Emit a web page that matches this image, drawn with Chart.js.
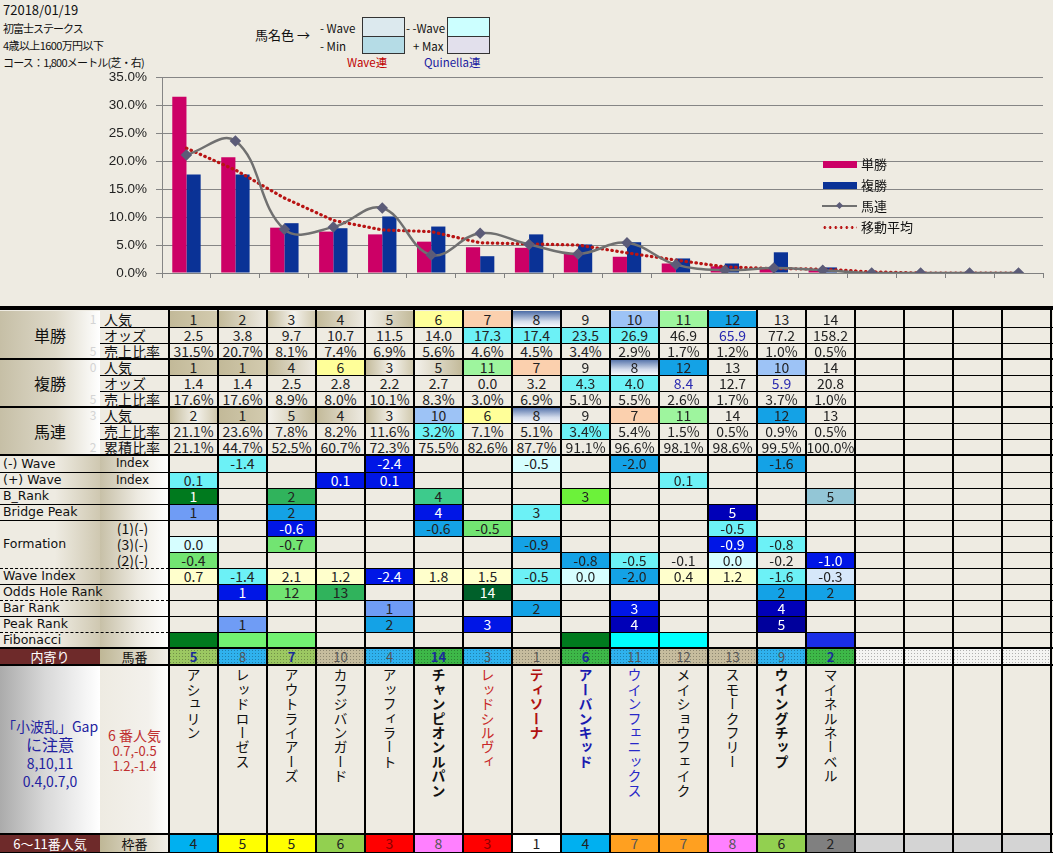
<!DOCTYPE html>
<html>
<head>
<meta charset="utf-8">
<script src="https://cdn.jsdelivr.net/npm/chart.js@4.4.0/dist/chart.umd.min.js"></script>
<style>
  body { margin:0; background:#EEEBE2; font-family:"Noto Sans CJK JP", sans-serif; }
  #page { position:relative; width:1053px; height:853px; overflow:hidden; background:#EEEBE2; }
  .t { position:absolute; white-space:nowrap; color:#111; }
  .box { position:absolute; border:1px solid #333; box-sizing:border-box; }
  .cell { position:absolute; box-sizing:border-box; text-align:center; font-size:14px; color:#222; overflow:hidden; white-space:nowrap; }
  .ln { position:absolute; background:#000; }
  .lg { position:absolute; font-size:13px; line-height:16px; color:#111; }
</style>
</head>
<body>
<div id="page">
  <div class="t" style="left:3px;top:1px;font-size:13px;line-height:18px">72018/01/19</div>
  <div class="t" style="left:3px;top:20px;font-size:11px;line-height:17px;letter-spacing:-1px">初富士ステークス</div>
  <div class="t" style="left:3px;top:37px;font-size:11px;line-height:17px;letter-spacing:-0.6px">4歳以上1600万円以下</div>
  <div class="t" style="left:3px;top:54px;font-size:11px;line-height:17px;letter-spacing:-0.8px">コース：1,800メートル(芝・右)</div>

  <div class="t" style="left:255px;top:27px;font-size:13px;line-height:16px">馬名色 →</div>
  <div class="t" style="left:320px;top:20px;font-size:11.5px;line-height:16px">- Wave</div>
  <div class="t" style="left:320px;top:38px;font-size:11.5px;line-height:16px">- Min</div>
  <div class="box" style="left:362px;top:17px;width:43px;height:20px;background:#DCE9EE"></div>
  <div class="box" style="left:362px;top:36px;width:43px;height:18px;background:#B5DCE6"></div>
  <div class="t" style="left:406px;top:20px;font-size:11.5px;line-height:16px">- -Wave</div>
  <div class="t" style="left:413px;top:38px;font-size:11.5px;line-height:16px">+ Max</div>
  <div class="box" style="left:447px;top:17px;width:43px;height:20px;background:#CCFFFF"></div>
  <div class="box" style="left:447px;top:36px;width:43px;height:18px;background:#E2E0EC"></div>
  <div class="t" style="left:347px;top:54px;font-size:11.5px;line-height:16px;color:#C00000">Wave連</div>
  <div class="t" style="left:424px;top:54px;font-size:11.5px;line-height:16px;color:#1A1AA0">Quinella連</div>

  <div style="position:absolute;left:0;top:60px;width:1053px;height:240px">
    <canvas id="chart" width="1053" height="240"></canvas>
  </div>

  <div id="legend"></div>
  <div id="grid"></div>
</div>

<script>
// ---- chart data (x = 単勝 popularity order) ----
const ranks = ['1','2','3','4','5','6','7','8','9','10','11','12','13','14','15','16','17','18'];
const winShare = [31.5, 20.7, 8.1, 7.4, 6.9, 5.6, 4.6, 4.5, 3.4, 2.9, 1.7, 1.2, 1.0, 0.5, null, null, null, null];
const placeShare = [17.6, 17.6, 8.9, 8.0, 10.1, 8.3, 3.0, 6.9, 5.1, 5.5, 2.6, 1.7, 3.7, 1.0, null, null, null, null];
const quinellaShare = [21.1, 23.6, 7.8, 8.2, 11.6, 3.2, 7.1, 5.1, 3.4, 5.4, 1.5, 0.5, 0.9, 0.5, 0, 0, 0, 0];
const movingAvg = [22.3, 18.4, 13.4, 9.4, 7.7, 7.4, 5.4, 5.2, 5.0, 3.6, 2.3, 1.1, 0.8, 0.7, 0.2, 0, 0, 0];
const yTicks = [0, 5, 10, 15, 20, 25, 30, 35];

// ---- table data ----
const winPop = ['1','2','3','4','5','6','7','8','9','10','11','12','13','14'];
const winOdds = ['2.5','3.8','9.7','10.7','11.5','14.0','17.3','17.4','23.5','26.9','46.9','65.9','77.2','158.2'];
const winRatio = ['31.5%','20.7%','8.1%','7.4%','6.9%','5.6%','4.6%','4.5%','3.4%','2.9%','1.7%','1.2%','1.0%','0.5%'];
const placePop = ['1','1','4','6','3','5','11','7','9','8','12','13','10','14'];
const placeOdds = ['1.4','1.4','2.5','2.8','2.2','2.7','0.0','3.2','4.3','4.0','8.4','12.7','5.9','20.8'];
const placeRatio = ['17.6%','17.6%','8.9%','8.0%','10.1%','8.3%','3.0%','6.9%','5.1%','5.5%','2.6%','1.7%','3.7%','1.0%'];
const qPop = ['2','1','5','4','3','10','6','8','9','7','11','14','12','13'];
const qRatio = ['21.1%','23.6%','7.8%','8.2%','11.6%','3.2%','7.1%','5.1%','3.4%','5.4%','1.5%','0.5%','0.9%','0.5%'];
const qCum = ['21.1%','44.7%','52.5%','60.7%','72.3%','75.5%','82.6%','87.7%','91.1%','96.6%','98.1%','98.6%','99.5%','100.0%'];
const waveMinus = ['','-1.4','','','-2.4','','','-0.5','','-2.0','','','-1.6',''];
const wavePlus = ['0.1','','','0.1','0.1','','','','','','0.1','','',''];
const bRank = ['1','','2','','','4','','','3','','','','','5'];
const bridgePeak = ['1','','2','','','4','','3','','','','5','',''];
const form1 = ['','','-0.6','','','-0.6','-0.5','','','','','-0.5','',''];
const form3 = ['0.0','','-0.7','','','','','-0.9','','','','-0.9','-0.8',''];
const form2 = ['-0.4','','','','','','','','-0.8','-0.5','-0.1','0.0','-0.2','-1.0'];
const waveIndex = ['0.7','-1.4','2.1','1.2','-2.4','1.8','1.5','-0.5','0.0','-2.0','0.4','1.2','-1.6','-0.3'];
const oddsHole = ['','1','12','13','','','14','','','','','','2','2'];
const barRank = ['','','','','1','','','2','','3','','','4',''];
const peakRank = ['','1','','','2','','3','','','4','','','5',''];
const fibo = ['','','','','','','','','','','','','',''];
const horseNo = ['5','8','7','10','4','14','3','1','6','11','12','13','9','2'];
const horseName = ['アシュリン','レッドローゼス','アウトライアーズ','カフジバンガード','アッフィラート','チャンピオンルパン','レッドシルヴィ','ティソーナ','アーバンキッド','ウインフェニックス','メイショウフェイク','スモークフリー','ウイングチップ','マイネルネーベル'];
const frameNo = ['4','5','5','6','3','8','3','1','4','7','7','8','6','2'];

// cell colour codes
const winPopBg = ['t1','t2','t3','t2','t4','y','p','g8','','lb','lg','b','',''];
const winOddsBg = ['','','','','','','c','c','c','c','','','',''];
const placePopBg = ['t1','t1','t2','y','t3','t4','lg','p','','g8','b','','lb',''];
const placeOddsBg = ['','','','','','','','','c','c','','','',''];
const qPopBg = ['t3','t1','t4','t2','t3','lb','y','g8','','p','lg','','b',''];
const qRatioBg = ['','','','','','c','','','c','','','','',''];
const waveMinusBg = ['','c','','','n','','','lc','','b','','','b',''];
const wavePlusBg = ['c','','','n','n','','','','','','c','','',''];
const bRankBg = ['dg','','mg','','','tg','','','bg','','','','','gb'];
const bridgePeakBg = ['cf','','b','','','n','','c','','','','nn','',''];
const form1Bg = ['','','n','','','b','gr','','','','','c','',''];
const form3Bg = ['lc','','gr','','','','','b','','','','n','c',''];
const form2Bg = ['gr','','','','','','','','b','c','','lc','','n'];
const waveIndexBg = ['ly','c','ly','ly','n','ly','ly','c','lc','b','ly','ly','c','lbg'];
const oddsHoleBg = ['','n','gr','mg','','','dk','','','','','','b','b'];
const barRankBg = ['','','','','cf','','','b','','n','','','nn',''];
const peakRankBg = ['','cf','','','b','','n','','','nn','','','nv',''];
const fiboBg = ['dg','lg2','lg2','','','','','','dg','cy','cy','','','fb'];
const horseNoBg = ['gA','bA','gA','tA','bA','gB','bA','tA','gB','bA','tA','tA','bA','gB'];
const horseNoBold = [1,0,1,0,0,1,0,0,1,0,0,0,0,1];
const nameColor = ['#111','#111','#111','#111','#111','#111','#C82828','#B01010','#1A1AB0','#2828C8','#111','#111','#111','#111'];
const nameBold = [0,0,0,0,0,1,0,1,1,0,0,0,1,0];

const PAL = {
  t1:'linear-gradient(90deg,#C2B998,#D3CBAF)',
  t2:'linear-gradient(90deg,#C2B998,#EEEBE3)',
  t3:'linear-gradient(90deg,#C2B998,#F4F2EC 55%,#CFC7AB)',
  t4:'linear-gradient(90deg,#F4F2EC,#C2B998)',
  y:'#FFFF99', p:'#FBD0AE', g8:'linear-gradient(180deg,#4C6CA6,#D5DDEC 65%,#F7F8FB)',
  lb:'#9DC3F6', lg:'#9EF59E', b:'#14A2E6', c:'#6CF1F6', lc:'#D6FEFF', n:'#0016E6', nn:'#0000B8', nv:'#00009C',
  ly:'#FFFFCC', dg:'#007A1E', mg:'#30B35C', tg:'#3DCB8C', bg:'#6CF23A', gb:'#93C6D6', cf:'#6F9CF5',
  gr:'#72E472', dk:'#00602A', lbg:'#D6E7FA', cy:'#00FFFF', fb:'#1A2EE6', lg2:'#72F272'
};
const WHITE_TXT = ['n','nn','nv','dg','dk','fb'];
const HN = { gA:'#9CC862', gB:'#3DB848', bA:'#2FB2EE', tA:'#C6BC9E' };
const FRAME = { '1':'#FFFFFF','2':'#808080','3':'#FF0000','4':'#00B0F0','5':'#FFFF00','6':'#92D050','7':'#FFA020','8':'#FF80FF' };

// ---- chart ----
new Chart(document.getElementById('chart').getContext('2d'), {
  type: 'bar',
  data: {
    labels: ranks,
    datasets: [
      { type:'line', label:'馬連', data: quinellaShare, borderColor:'#707070', borderWidth:2.5, tension:0.4,
        pointStyle:'rectRot', pointRadius:4, pointBackgroundColor:'#5C5C78', pointBorderColor:'#5C5C78', order:1 },
      { type:'line', label:'移動平均', data: movingAvg, borderColor:'#B81414', borderWidth:3.2, borderDash:[0.5,4.5],
        borderCapStyle:'round', pointRadius:0, tension:0, order:2 },
      { label:'単勝', data: winShare, backgroundColor:'#CC0066', categoryPercentage:0.58, barPercentage:1, order:3 },
      { label:'複勝', data: placeShare, backgroundColor:'#0A3296', categoryPercentage:0.58, barPercentage:1, order:4 }
    ]
  },
  options: {
    responsive: false,
    animation: false,
    devicePixelRatio: 1,
    layout: { padding: { top:17, right:10, left:0, bottom:0 } },
    plugins: { legend: { display:false }, tooltip: { enabled:false } },
    scales: {
      x: {
        offset: true,
        ticks: { display:false },
        grid: { display:true, drawOnChartArea:false, drawTicks:true, tickLength:5, color:'#808080', offset:true },
        border: { display:true, color:'#808080' },
        afterFit: s => { s.height = 27; }
      },
      y: {
        min: 0, max: 35,
        afterBuildTicks: s => { s.ticks = yTicks.map(v => ({ value:v })); },
        ticks: { callback: v => v.toFixed(1) + '%', color:'#222', padding:9,
                 font: { family:'"Liberation Sans", Arial, sans-serif', size:13.5 } },
        grid: { color:'#858585', lineWidth:1, tickLength:6 },
        border: { display:true, color:'#858585' },
        afterFit: s => { s.width = 162; }
      }
    }
  }
});

// ---- legend (inside the plot) ----
const legendItems = [
  { text:'単勝', kind:'bar', color:'#CC0066' },
  { text:'複勝', kind:'bar', color:'#0A3296' },
  { text:'馬連', kind:'line' },
  { text:'移動平均', kind:'dot' }
];
const legend = document.getElementById('legend');
legendItems.forEach((it, i) => {
  const cy = 164 + i * 21;
  let sw = '';
  if (it.kind === 'bar') {
    sw = `<div style="position:absolute;left:823px;top:${cy-3}px;width:34px;height:7px;background:${it.color}"></div>`;
  } else if (it.kind === 'line') {
    sw = `<div style="position:absolute;left:822px;top:${cy-1}px;width:35px;height:2px;background:#707070"></div>
          <div style="position:absolute;left:837px;top:${cy-3}px;width:5px;height:5px;background:#5C5C78;transform:rotate(45deg)"></div>`;
  } else {
    sw = `<div style="position:absolute;left:822px;top:${cy-1}px;width:35px;height:3px;
          background-image:radial-gradient(circle,#B81414 1.2px,transparent 1.5px);background-size:5.5px 3px"></div>`;
  }
  legend.insertAdjacentHTML('beforeend', sw + `<div class="lg" style="left:861px;top:${cy-8}px">${it.text}</div>`);
});

// ---- table ----
const grid = document.getElementById('grid');
const X0 = 169, CW = 49, NC = 18, XB = 100;
const rowY = k => 311 + Math.round(16.05 * k);
function div(cls, css, text, html) {
  const d = document.createElement('div');
  d.className = cls;
  d.style.cssText = css;
  if (html) d.innerHTML = html; else if (text) d.textContent = text;
  grid.appendChild(d);
  return d;
}

const dataRows = [
  [winPop, winPopBg], [winOdds, winOddsBg], [winRatio, null],
  [placePop, placePopBg], [placeOdds, placeOddsBg], [placeRatio, null],
  [qPop, qPopBg], [qRatio, qRatioBg], [qCum, null],
  [waveMinus, waveMinusBg], [wavePlus, wavePlusBg], [bRank, bRankBg], [bridgePeak, bridgePeakBg],
  [form1, form1Bg], [form3, form3Bg], [form2, form2Bg], [waveIndex, waveIndexBg],
  [oddsHole, oddsHoleBg], [barRank, barRankBg], [peakRank, peakRankBg], [fibo, fiboBg]
];
const blueText = { '1-11':1, '4-10':1, '4-12':1 };

// left label columns
const gradA = 'linear-gradient(90deg,#C6BFA6 0%,#DDD8C8 55%,#FFFFFF 100%)';
const gradB2 = 'linear-gradient(90deg,#C7C0A7 0%,#EDEAE1 55%,#FFFFFF 100%)';
const gradA2 = 'linear-gradient(90deg,#EEEBE2 0%,#EEEBE2 55%,#CFC8B1 100%)';
[['単勝',0],['複勝',3],['馬連',6]].forEach(([t, r]) => {
  const y0 = rowY(r), y1 = rowY(r + 3);
  div('cell', `left:0;top:${y0}px;width:${XB}px;height:${y1-y0}px;background:${gradA};line-height:${y1-y0}px;font-size:16px;color:#111`, t);
});
const bLabels = ['人気','オッズ','売上比率','人気','オッズ','売上比率','人気','売上比率','累積比率'];
const faint = { 0:'1', 2:'5', 3:'0', 5:'5', 6:'3', 8:'2' };
bLabels.forEach((t, r) => {
  const y0 = rowY(r), h = rowY(r + 1) - y0;
  div('cell', `left:${XB}px;top:${y0}px;width:${X0-XB}px;height:${h}px;line-height:${h}px;text-align:left;padding-left:4px;color:#111`, t);
  if (faint[r]) div('cell', `left:88px;top:${y0}px;width:10px;height:${h}px;line-height:${h}px;color:#D4D4D4;font-size:12px`, faint[r]);
});
const aLabels = { 9:'(-) Wave', 10:'(+) Wave', 11:'B_Rank', 12:'Bridge Peak', 16:'Wave Index', 17:'Odds Hole Rank', 18:'Bar Rank', 19:'Peak Rank', 20:'Fibonacci' };
const bLabels2 = { 9:'Index', 10:'Index', 13:'(1)(-)', 14:'(3)(-)', 15:'(2)(-)' };
for (let r = 9; r <= 20; r++) {
  const y0 = rowY(r), h = rowY(r + 1) - y0;
  const isForm = r >= 13 && r <= 15;
  div('cell', `left:0;top:${y0}px;width:${XB}px;height:${h}px;background:${gradA2}`, '');
  div('cell', `left:${XB}px;top:${y0}px;width:${X0-XB}px;height:${h}px;line-height:${h}px;background:${gradB2};font-family:${isForm ? '"Noto Sans CJK JP"' : "'DejaVu Sans'"},sans-serif;font-size:${isForm ? 14 : 12}px;color:#111;padding-right:4px`, bLabels2[r] || '');
  if (aLabels[r]) div('cell', `left:0;top:${y0}px;width:${XB+10}px;height:${h}px;line-height:${h}px;text-align:left;padding-left:3px;font-family:'DejaVu Sans',sans-serif;font-size:12.5px;color:#111;overflow:visible`, aLabels[r]);
}
div('cell', `left:0;top:${rowY(14)}px;width:${XB}px;height:16px;line-height:16px;text-align:left;padding-left:3px;font-family:'DejaVu Sans',sans-serif;font-size:12.5px;color:#111`, 'Formation');

// data cells rows 0..20
dataRows.forEach(([vals, bgs], r) => {
  const y0 = rowY(r), h = rowY(r + 1) - y0;
  for (let c = 0; c < NC; c++) {
    const code = bgs && c < 14 ? bgs[c] : '';
    const bg = code ? PAL[code] : '#EEEBE2';
    let col = WHITE_TXT.includes(code) ? '#FFFFFF' : '#222';
    if (blueText[r + '-' + c]) col = '#2A2AB0';
    const txt = c < 14 ? vals[c] : '';
    div('cell', `left:${X0 + CW*c}px;top:${y0}px;width:${CW}px;height:${h}px;line-height:${h}px;background:${bg};color:${col}`, txt);
  }
});

// 馬番 row
const yH = 649, hH = 16;
div('cell', `left:0;top:${yH}px;width:${XB}px;height:${hH}px;line-height:${hH}px;background:#6E2A2A;color:#fff;font-size:13px`, '内寄り');
div('cell', `left:${XB}px;top:${yH}px;width:${X0-XB}px;height:${hH}px;line-height:${hH}px;background:linear-gradient(90deg,#BFB796,#F2F0EA);color:#111;font-size:13px`, '馬番');
for (let c = 0; c < NC; c++) {
  const base = c < 14 ? HN[horseNoBg[c]] : '#F4F4F2';
  const bold = c < 14 && horseNoBold[c];
  div('cell', `left:${X0 + CW*c}px;top:${yH}px;width:${CW}px;height:${hH}px;line-height:${hH}px;background-color:${base};
    background-image:radial-gradient(circle,rgba(0,0,0,0.28) 0.7px,transparent 0.9px);background-size:3px 3px;
    color:${bold ? '#1A2C9A' : '#555'};font-weight:${bold ? 700 : 400};font-size:13px`, c < 14 ? horseNo[c] : '');
}

// name row
const yN = 665, hN = 169;
div('cell', `left:0;top:${yN}px;width:${XB}px;height:${hN}px;background:linear-gradient(90deg,#ABABAB 0%,#D8D8D8 45%,#FFFFFF 100%)`, '');
div('cell', `left:0;top:${yN+52}px;width:${XB}px;height:80px;color:#2222A0;white-space:normal;line-height:18px;font-size:14px`, '',
  '「小波乱」Gap<br><span style="font-size:16px">に注意</span><br>8,10,11<br>0.4,0.7,0');
div('cell', `left:${XB}px;top:${yN}px;width:${X0-XB}px;height:${hN}px;background:linear-gradient(90deg,#EEEBE2 0%,#F3F1EC 70%,#FFFFFF 100%)`, '');
div('cell', `left:${XB}px;top:${yN+63}px;width:${X0-XB}px;height:50px;color:#C03030;white-space:normal;line-height:15px;font-size:13px`, '',
  '<span style="font-size:14px">6 番人気</span><br>0.7,-0.5<br>1.2,-1.4');
for (let c = 0; c < NC; c++) {
  const d = div('cell', `left:${X0 + CW*c}px;top:${yN}px;width:${CW}px;height:${hN}px;background:#EEEBE2`, '');
  if (c < 14) {
    d.insertAdjacentHTML('beforeend',
      `<div style="writing-mode:vertical-rl;text-orientation:upright;font-size:14px;line-height:18px;letter-spacing:0.4px;
        margin:3px auto 0;color:${nameColor[c]};font-weight:${nameBold[c] ? 700 : 400}">${horseName[c]}</div>`);
  }
}

// 枠番 row
const yF = 835, hF = 17;
div('cell', `left:0;top:${yF}px;width:${XB}px;height:${hF}px;line-height:${hF}px;background:#6E2A2A;color:#fff;font-size:13px`, '6〜11番人気');
div('cell', `left:${XB}px;top:${yF}px;width:${X0-XB}px;height:${hF}px;line-height:${hF}px;background:linear-gradient(90deg,#BFB796,#F2F0EA);color:#111;font-size:13px`, '枠番');
for (let c = 0; c < NC; c++) {
  const f = c < 14 ? frameNo[c] : '';
  const bg = f ? FRAME[f] : '#D4D4D4';
  const col = f === '3' ? '#8B0000' : (f === '7' || f === '8') ? '#555' : '#222';
  div('cell', `left:${X0 + CW*c}px;top:${yF}px;width:${CW}px;height:${hF}px;line-height:${hF}px;background:${bg};color:${col}`, f);
}

// ---- grid lines ----
function hline(x0, x1, y, t, dashed) {
  if (dashed) div('ln', `left:${x0}px;top:${y}px;width:${x1-x0}px;height:0;background:none;border-top:1px dashed #000`, '');
  else div('ln', `left:${x0}px;top:${y}px;width:${x1-x0}px;height:${t}px`, '');
}
div('ln', 'left:0;top:306px;width:1053px;height:4px', '');
for (let k = 1; k <= 20; k++) {
  const y = rowY(k);
  if (k === 3 || k === 6 || k === 9) { hline(0, 1053, y - 1, 2); continue; }
  if ([1,2,4,5,7,8].includes(k)) { hline(XB, 1053, y, 1); continue; }
  if (k === 14 || k === 15) { hline(X0, 1053, y, 1); continue; }
  if (k === 16 || k === 18 || k === 20) { hline(0, X0, y, 1, true); hline(X0, 1053, y, 1); continue; }
  hline(0, 1053, y, 1);
}
hline(0, 1053, 647, 2);
hline(0, 1053, 664, 2);
hline(0, 1053, 833, 2);
hline(0, 1053, 852, 1);
for (let j = 0; j <= NC; j++) {
  div('ln', `left:${X0 + CW*j - 1}px;top:310px;width:2px;height:543px`, '');
}
</script>
</body>
</html>
